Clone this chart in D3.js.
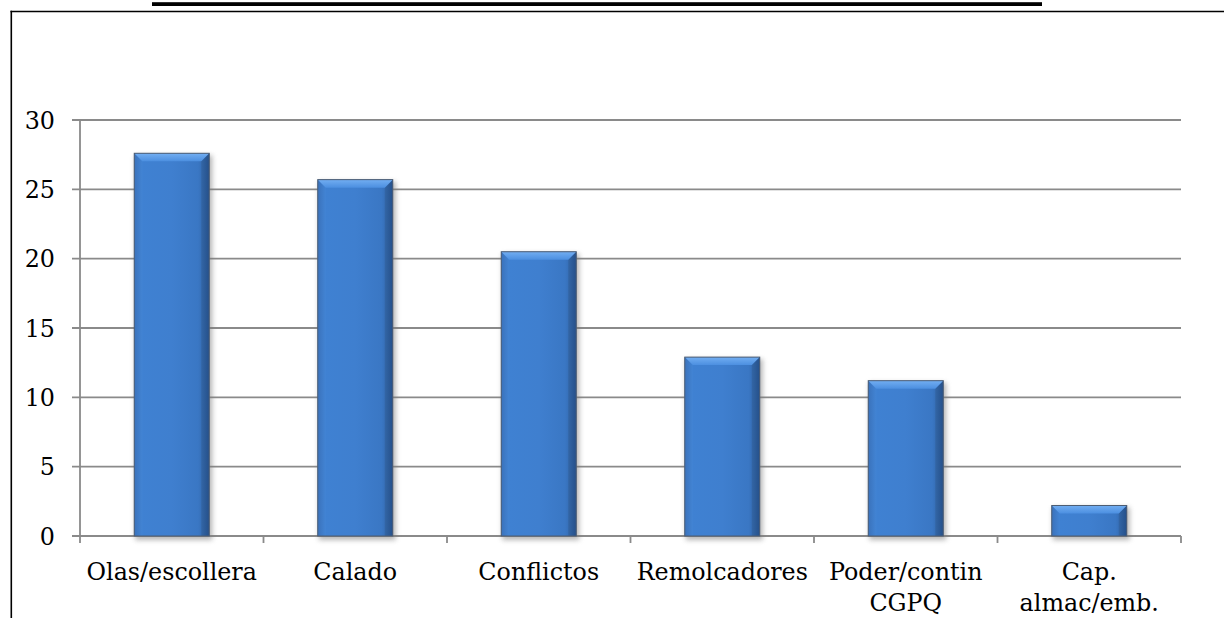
<!DOCTYPE html>
<html>
<head>
<meta charset="utf-8">
<script src="https://cdn.jsdelivr.net/npm/d3@7/dist/d3.min.js"></script>
<style>
  html, body { margin: 0; padding: 0; background: #ffffff; }
  svg { display: block; }
  text { font-family: "DejaVu Serif", "Liberation Serif", serif; fill: #000; }
</style>
</head>
<body>
<svg id="chart" width="1224" height="618"></svg>
<script>
// Categories and values of the bar chart
const categories = ["Olas/escollera", "Calado", "Conflictos", "Remolcadores", "Poder/contin CGPQ", "Cap. almac/emb."];
const categoryLines = [["Olas/escollera"], ["Calado"], ["Conflictos"], ["Remolcadores"], ["Poder/contin", "CGPQ"], ["Cap.", "almac/emb."]];
const values = [27.6, 25.7, 20.5, 12.9, 11.2, 2.2];
const yTicks = [0, 5, 10, 15, 20, 25, 30];

const svg = d3.select("#chart");
const W = 1224, H = 618;
const plot = { left: 80, right: 1181, top: 120, bottom: 536 };
const fontSize = 23.8;

// Page frame: heavy rule on top and thin box lines
svg.append("rect").attr("x", 152).attr("y", 2.2).attr("width", 890).attr("height", 3.8).attr("fill", "#000");
svg.append("line").attr("x1", 10.5).attr("x2", W).attr("y1", 11.5).attr("y2", 11.5)
  .attr("stroke", "#000").attr("stroke-width", 1.6);
svg.append("line").attr("x1", 11.3).attr("x2", 11.3).attr("y1", 10.7).attr("y2", H)
  .attr("stroke", "#000").attr("stroke-width", 1.6);

const x = d3.scaleBand().domain(categories).range([plot.left, plot.right]).paddingInner(0).paddingOuter(0);
const y = d3.scaleLinear().domain([0, 30]).range([plot.bottom, plot.top]);

const defs = svg.append("defs");
const body = defs.append("linearGradient").attr("id", "barBody").attr("x1", 0).attr("x2", 1).attr("y1", 0).attr("y2", 0);
[[0, "#3a74c0"], [0.1, "#3f81d2"], [0.5, "#3f7fcf"], [0.85, "#3a77c4"], [1, "#2e5f9f"]]
  .forEach(([o, c]) => body.append("stop").attr("offset", o).attr("stop-color", c));
const topG = defs.append("linearGradient").attr("id", "barTop").attr("x1", 0).attr("x2", 0).attr("y1", 0).attr("y2", 1);
[[0, "#72aef2"], [1, "#4c8fe0"]].forEach(([o, c]) => topG.append("stop").attr("offset", o).attr("stop-color", c));
const rightG = defs.append("linearGradient").attr("id", "barRight").attr("x1", 0).attr("x2", 1).attr("y1", 0).attr("y2", 0);
[[0, "#3366a6"], [1, "#25508a"]].forEach(([o, c]) => rightG.append("stop").attr("offset", o).attr("stop-color", c));
const leftG = defs.append("linearGradient").attr("id", "barLeft").attr("x1", 0).attr("x2", 1).attr("y1", 0).attr("y2", 0);
[[0, "#3a72bb"], [1, "#4284d4"]].forEach(([o, c]) => leftG.append("stop").attr("offset", o).attr("stop-color", c));
const blur = defs.append("filter").attr("id", "shadow").attr("x", "-20%").attr("y", "-20%").attr("width", "140%").attr("height", "140%");
blur.append("feGaussianBlur").attr("stdDeviation", 2.5);

// Horizontal gridlines
const grid = svg.append("g");
grid.selectAll("line").data(yTicks).join("line")
  .attr("x1", plot.left - 8).attr("x2", plot.right)
  .attr("y1", d => y(d)).attr("y2", d => y(d))
  .attr("stroke", "#8a8a8a").attr("stroke-width", 1.8);

// Vertical axis line
svg.append("line").attr("x1", plot.left).attr("x2", plot.left).attr("y1", plot.top).attr("y2", plot.bottom)
  .attr("stroke", "#8a8a8a").attr("stroke-width", 1.8);

// Category boundary ticks below the baseline
const bounds = categories.map(c => x(c)).concat([plot.right]);
svg.append("g").selectAll("line").data(bounds).join("line")
  .attr("x1", d => d).attr("x2", d => d).attr("y1", plot.bottom).attr("y2", plot.bottom + 7)
  .attr("stroke", "#8a8a8a").attr("stroke-width", 1.8);

// Y tick labels
svg.append("g").selectAll("text").data(yTicks).join("text")
  .attr("x", 55).attr("y", d => y(d)).attr("dy", "0.36em")
  .attr("text-anchor", "end").attr("font-size", fontSize)
  .text(d => d);

// Bars with bevel shading
const barW = 75;
const bev = 8;
const bars = svg.append("g").selectAll("g").data(values).join("g")
  .attr("transform", (d, i) => `translate(${x(categories[i]) + x.bandwidth() / 2 - barW / 2},0)`);

bars.append("rect")
  .attr("x", 1).attr("y", d => y(d) + 2)
  .attr("width", barW + 2).attr("height", d => plot.bottom - y(d) + 2)
  .attr("fill", "#7a7a7a").attr("opacity", 0.55).attr("filter", "url(#shadow)");
bars.append("rect")
  .attr("x", 0).attr("y", d => y(d))
  .attr("width", barW).attr("height", d => plot.bottom - y(d))
  .attr("fill", "url(#barBody)");
bars.append("path")
  .attr("d", d => {
    const t = y(d), h = plot.bottom - t, b = Math.min(bev, h / 2);
    return `M0,${t}L${b},${t + b}L${b},${plot.bottom}L0,${plot.bottom}Z`;
  })
  .attr("fill", "url(#barLeft)");
bars.append("path")
  .attr("d", d => {
    const t = y(d), h = plot.bottom - t, b = Math.min(bev, h / 2);
    return `M${barW},${t}L${barW - b},${t + b}L${barW - b},${plot.bottom}L${barW},${plot.bottom}Z`;
  })
  .attr("fill", "url(#barRight)");
bars.append("path")
  .attr("d", d => {
    const t = y(d), h = plot.bottom - t, b = Math.min(bev, h / 2);
    return `M0,${t}L${barW},${t}L${barW - b},${t + b}L${b},${t + b}Z`;
  })
  .attr("fill", "url(#barTop)");
bars.append("rect")
  .attr("x", 0).attr("y", d => y(d))
  .attr("width", barW).attr("height", d => plot.bottom - y(d))
  .attr("fill", "none").attr("stroke", "#4d5d73").attr("stroke-width", 1);

// Category labels
const labels = svg.append("g").selectAll("text").data(categories).join("text")
  .attr("text-anchor", "middle").attr("font-size", fontSize)
  .attr("x", d => x(d) + x.bandwidth() / 2)
  .attr("y", 580);
labels.selectAll("tspan").data((d, i) => categoryLines[i]).join("tspan")
  .attr("x", function () { return d3.select(this.parentNode).attr("x"); })
  .attr("dy", (d, j) => j === 0 ? 0 : 31)
  .text(d => d);
</script>
</body>
</html>
